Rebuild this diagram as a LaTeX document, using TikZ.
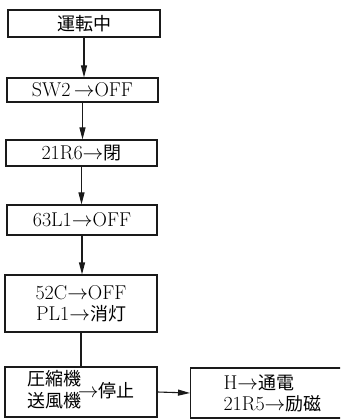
\documentclass[tikz,border=0pt]{standalone}
\usepackage{fontspec}
\newfontfamily\jp[Scale=0.9]{Noto Sans CJK JP}
\usetikzlibrary{arrows.meta,positioning}
\definecolor{ink}{HTML}{1A1A1A}
\tikzset{
  stepbox/.style={draw=ink,line width=1.1pt,fill=white,inner sep=2pt,align=center,
    font=\fontsize{20}{21}\selectfont},
  flow/.style={ink,line width=1.1pt,-{Triangle[length=12pt,width=6pt]}},
  plain/.style={ink,line width=1.1pt},
}

\begin{document}
\begin{tikzpicture}[x=1pt,y=-1pt]
  \clip (0,0) rectangle (340,419);
  % ---------- boxes ----------
  \node[stepbox,minimum width=152pt,minimum height=27pt] (run) at (84,23.5) {\jp 運転中};
  \node[stepbox,minimum width=151pt,minimum height=24pt] (sw) at (82.5,90) {SW2\,$\rightarrow$OFF};
  \node[stepbox,minimum width=151pt,minimum height=26pt] (valve) at (81.5,153) {21R6$\rightarrow${\jp 閉}};
  \node[stepbox,minimum width=150pt,minimum height=30pt] (press) at (82,220) {63L1$\rightarrow$OFF};
  \node[stepbox,minimum width=152pt,minimum height=57pt] (lamp) at (81,303.5)
    {52C$\rightarrow$OFF\\ PL1$\rightarrow${\jp 消灯}};
  \node[stepbox,minimum width=152pt,minimum height=50pt] (stop) at (81,392)
    {{\jp\begin{tabular}{@{}l@{}}圧縮機\\ 送風機\end{tabular}}$\!\rightarrow${\jp 停止}};
  % right box runs off the page edge
  \node[stepbox,anchor=west,align=left,text width=130pt,inner xsep=33pt,minimum height=50pt]
    (heat) at (190,393) {H$\rightarrow${\jp 通電}\\ 21R5$\rightarrow${\jp 励磁}};
  % ---------- connectors ----------
  \draw[flow] (run.south) -- (run.south |- sw.north);
  \draw[flow] (sw.south) -- (sw.south |- valve.north);
  \draw[flow] (valve.south) -- (valve.south |- press.north);
  \draw[flow] (press.south) -- (press.south |- lamp.north);
  \draw[plain] (lamp.south) -- (lamp.south |- stop.north);
  \draw[flow] (stop.east) -- (heat.west);
\end{tikzpicture}
\end{document}
